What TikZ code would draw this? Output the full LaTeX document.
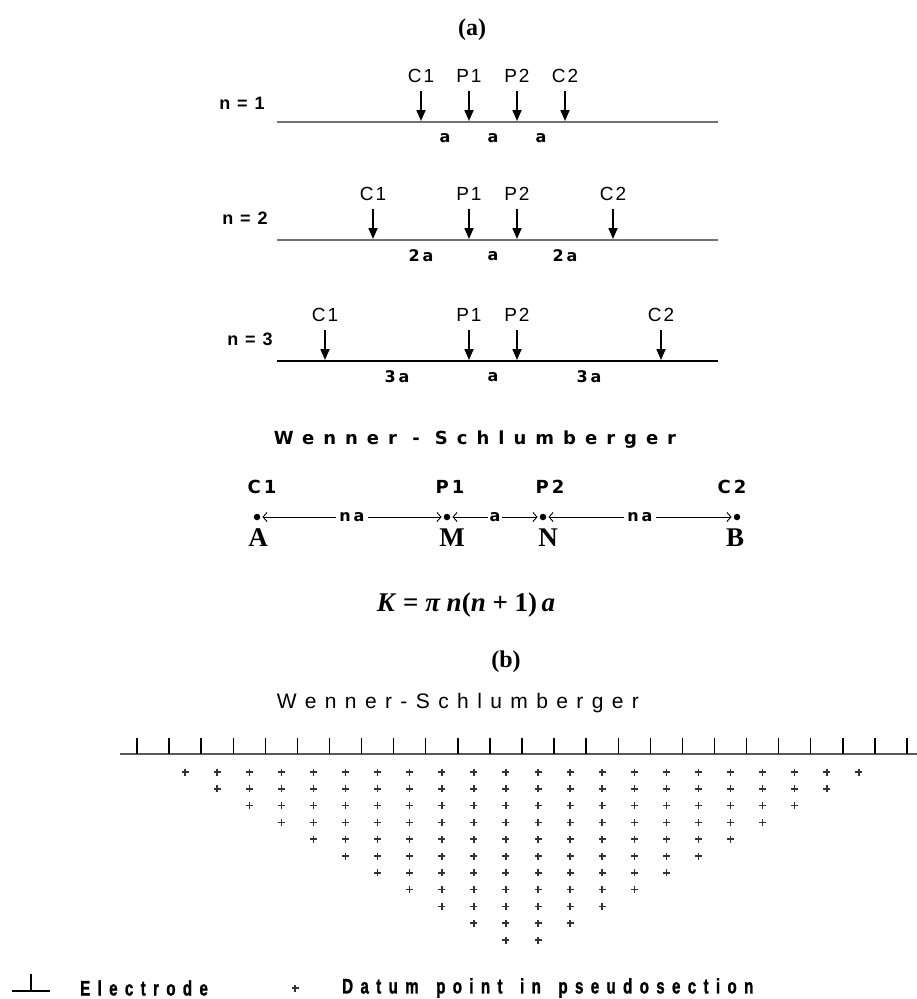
\documentclass[tikz,border=0pt]{standalone}
\usepackage{fontspec}
\usetikzlibrary{arrows.meta}
\newfontfamily\armfont[LetterSpace=10]{Liberation Sans}
\newfontfamily\psfont[LetterSpace=40]{Liberation Sans}
\newfontfamily\wsfont[LetterSpace=50]{DejaVu Sans}
\newfontfamily\tagfont[LetterSpace=18]{DejaVu Sans}
\newfontfamily\legfont[FakeStretch=0.72,FakeBold=1.2,LetterSpace=35]{Liberation Sans}
\newfontfamily\capfont{Liberation Serif}
\newcommand{\kfactor}{\textit{K} = \textit{π n}(\textit{n} + 1)\,\textit{a}}
\newcommand{\wgap}{\hspace{6pt}}
\tikzstyle{every node}=[inner sep=0pt]
\tikzstyle{elec}=[font=\armfont\fontsize{19}{22}\selectfont]
\tikzstyle{nlbl}=[font=\armfont\bfseries\fontsize{18}{21}\selectfont]
\tikzstyle{spc}=[font=\tagfont\bfseries\fontsize{16}{19}\selectfont]
\tikzstyle{probe}=[-{Triangle[length=11pt,width=9pt]}, line width=1.7pt, shorten <=8pt]
\tikzstyle{ground}=[line width=2.4pt]
\tikzstyle{wslbl}=[font=\wsfont\bfseries\fontsize{18}{21}\selectfont]
\tikzstyle{wstag}=[font=\tagfont\bfseries\fontsize{18}{21}\selectfont]
\tikzstyle{edot}=[circle, fill, inner sep=0pt, minimum size=6.5pt]
\tikzstyle{gapline}=[{Straight Barb[length=4pt,width=9pt]}-{Straight Barb[length=4pt,width=9pt]}, line width=0.9pt, shorten <=2pt, shorten >=2pt]
\tikzstyle{pole}=[font=\capfont\bfseries\fontsize{27}{30}\selectfont]
\tikzstyle{panel}=[font=\capfont\bfseries\fontsize{24}{28}\selectfont]
\tikzstyle{kstyle}=[font=\capfont\bfseries\fontsize{27}{30}\selectfont]
\tikzstyle{tick}=[line width=1.4pt]
\tikzstyle{datum}=[line width=1.5pt, black!80]
\tikzstyle{legtext}=[font=\legfont\bfseries\fontsize{21}{24}\selectfont, anchor=west]

\begin{document}
\begin{tikzpicture}[x=1pt, y=-1pt, >=latex]
\useasboundingbox (0,0) rectangle (917,999);

% (a) three spreads
\node[panel] (pa) at (472,30) {(a)};
\foreach \r/\yl/\ny/\nx/\col in {1/122/103/242/black!55, 2/240/218/245/black!55, 3/361/339/250/black} {
  \node[nlbl] (n\r) at (\nx,\ny) {n = \r};
  \coordinate (west\r) at (277,\yl);
  \coordinate (east\r) at (718,\yl);
  \draw[ground, \col] (west\r) -- (east\r);
  \pgfmathsetmacro\xa{469-48*\r}
  \pgfmathsetmacro\xd{517+48*\r}
  \foreach \nm/\xx in {C1/\xa, P1/469, P2/517, C2/\xd} {
    \node[elec] (\nm\r) at (\xx,\yl-46) {\nm};
    \coordinate (\nm\r g) at (\xx,\yl-1);
    \draw[probe] (\nm\r) -- (\nm\r g);
  }
  \node[spc] (sl\r) at (469-24*\r,\yl+16) {\ifnum\r=1 a\else\r a\fi};
  \node[spc] (sm\r) at (493,\yl+16) {a};
  \node[spc] (sr\r) at (517+24*\r,\yl+16) {\ifnum\r=1 a\else\r a\fi};
}

% Wenner - Schlumberger array
\node[wslbl, anchor=base] (wstitle) at (475,444) {Wenner - Schlumberger};
\node[edot] (A) at (257,517) {};
\node[edot] (M) at (447,517) {};
\node[edot] (N) at (543,517) {};
\node[edot] (B) at (737,517) {};
\node[wstag] (c1m) at (262,487) {C1};
\node[wstag] (p1m) at (450,487) {P1};
\node[wstag] (p2m) at (550,487) {P2};
\node[wstag] (c2m) at (732,487) {C2};
\draw[gapline] (A) -- node[spc, fill=white, inner xsep=3pt] (na1) {na} (M);
\draw[gapline] (M) -- node[spc, fill=white, inner xsep=2pt] (a1) {a} (N);
\draw[gapline] (N) -- node[spc, fill=white, inner xsep=3pt] (na2) {na} (B);
\node[pole] (Al) at (258,538) {A};
\node[pole] (Ml) at (452,538) {M};
\node[pole] (Nl) at (548,538) {N};
\node[pole] (Bl) at (735,538) {B};
\node[kstyle] (kform) at (466,605) {\kfactor};

% (b) pseudosection
\node[panel] (pb) at (506,662) {(b)};
\node[font=\psfont\fontsize{21}{25}\selectfont, anchor=base] (pstitle) at (458,708) {Wenner-Schlumberger};
\coordinate (sleft) at (120,754);
\coordinate (sright) at (917,754);
\draw[ground, black!65] (sleft) -- (sright);
\foreach \i in {0,...,24}
  \draw[tick] (137+32.083*\i,738) -- (137+32.083*\i,754);
\foreach \k in {1,...,11} {
  \pgfmathtruncatemacro\last{23-2*\k}
  \foreach \i in {0,...,\last} {
    \pgfmathsetmacro\px{137+32.083*(\i+\k+0.5)}
    \pgfmathsetmacro\py{772+16.8*(\k-1)}
    \draw[datum] (\px-3.5,\py) -- (\px+3.5,\py) (\px,\py-3.5) -- (\px,\py+3.5);
  }
}

% legend
\draw[tick] (12,991) -- (50,991) (31,974) -- (31,991);
\node[legtext] (elegend) at (80,988) {Electrode};
\draw[datum] (291.5,988) -- (298.5,988) (295,984.5) -- (295,991.5);
\node[legtext] (dlegend) at (342,988) {Datum\wgap{} point\wgap{} in\wgap{} pseudosection};
\end{tikzpicture}
\end{document}
